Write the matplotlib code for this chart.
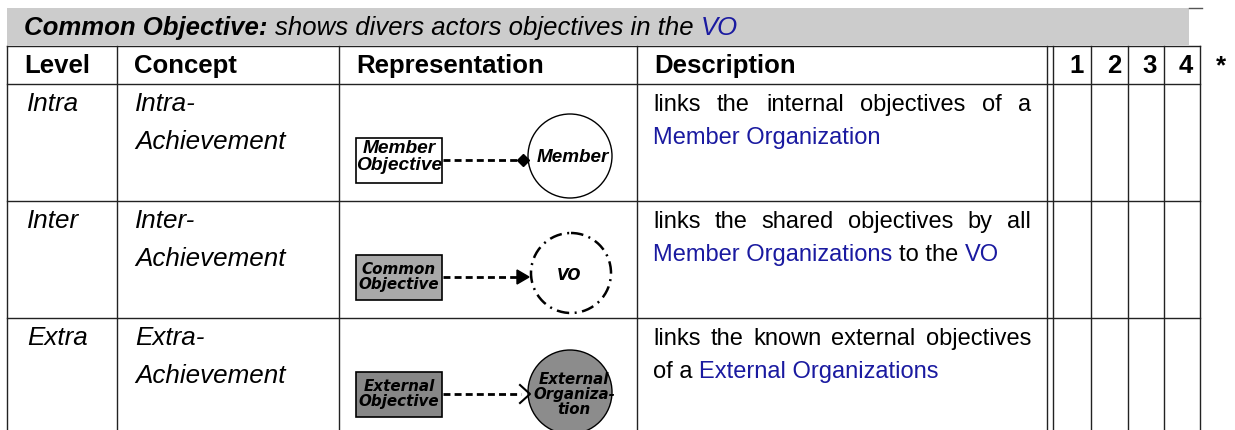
import matplotlib
matplotlib.use('Agg')
import matplotlib.pyplot as plt
from matplotlib.patches import Rectangle, Circle, Polygon

plt.rcParams['font.family'] = ['Liberation Sans', 'DejaVu Sans']

# ---- table content ----
title_runs = ['Common Objective:', 'shows divers actors objectives in the', 'VO']
headers = ['Level', 'Concept', 'Representation', 'Description']
check_cols = ['1', '2', '3', '4']
levels = ['Intra', 'Inter', 'Extra']
concepts = [['Intra-', 'Achievement'], ['Inter-', 'Achievement'], ['Extra-', 'Achievement']]
desc_first = ['links the internal objectives of a',
              'links the shared objectives by all',
              'links the known external objectives']
# second lines: (text, is_link) runs, separated by single spaces
desc_second = [[('Member Organization', True)],
               [('Member Organizations', True), ('to the', False), ('VO', True)],
               [('of a', False), ('External Organizations', True)]]
source_labels = ['Member\nObjective', 'Common\nObjective', 'External\nObjective']
target_labels = ['Member', 'VO', 'External\nOrganiza-\ntion']
source_fills = ['white', '#a9a9a9', '#878787']
target_fills = ['white', 'white', '#8c8c8c']
arrow_kinds = ['dot', 'filled', 'open']

LINK = '#1a1aa0'
W, H = 1235, 430
col_x = [7, 117, 339, 637, 1047]
num_x = [1053, 1091, 1128, 1164, 1200]
head_top, head_bot = 46, 84
row_tops = [84, 201, 318]

fig = plt.figure(figsize=(W / 100, H / 100), dpi=100)
ax = fig.add_axes([0, 0, 1, 1])
ax.set_xlim(0, W)
ax.set_ylim(H, 0)
ax.axis('off')
fig.canvas.draw()
renderer = fig.canvas.get_renderer()


def width(t):
    return t.get_window_extent(renderer).width


def space_width(**style):
    a = ax.text(0, 0, 'n n', **style)
    b = ax.text(0, 0, 'nn', **style)
    w = width(a) - width(b)
    a.remove()
    b.remove()
    return w


def draw_runs(x, y, runs):
    for text, style in runs:
        t = ax.text(x, y, text, va='baseline', ha='left', **style)
        x += width(t) + space_width(**style)


def justify(text, x0, x1, y, **style):
    arts = [ax.text(0, y, w, va='baseline', ha='left', **style) for w in text.split()]
    ws = [width(a) for a in arts]
    gap = (x1 - x0 - sum(ws)) / (len(arts) - 1)
    x = x0
    for a, w in zip(arts, ws):
        a.set_x(x)
        x += w + gap


# ---- title band ----
ax.add_patch(Rectangle((7, 8), 1182, 37, fc='#cccccc', ec='none'))
ax.plot([1189, 1202], [8, 8], color='#555555', lw=1)
tfs = 18.5
draw_runs(24, 35, [(title_runs[0], dict(fontsize=tfs, fontweight='bold', fontstyle='italic')),
                   (title_runs[1], dict(fontsize=tfs, fontstyle='italic')),
                   (title_runs[2], dict(fontsize=tfs, fontstyle='italic', color=LINK))])

# ---- grid ----
lc = '#222222'
for y in [head_top, head_bot] + row_tops[1:]:
    ax.plot([col_x[0], num_x[-1]], [y, y], color=lc, lw=1)
for x in col_x + num_x:
    ax.plot([x, x], [head_top, H], color=lc, lw=1)

# ---- header ----
hfs = 18.5
for x, h in zip(col_x, headers):
    ax.text(x + 17, 73, h, fontsize=hfs, fontweight='bold', va='baseline')
for x, h in zip(num_x[1:], check_cols):
    ax.text(x - 7, 73, h, fontsize=hfs, fontweight='bold', va='baseline', ha='right')
ax.text(1216, 73, '*', fontsize=hfs, fontweight='bold', va='baseline')

# ---- rows ----
bfs = 18.7
dfs = 17
for i, top in enumerate(row_tops):
    b1 = top + 27
    ax.text(27, b1, levels[i], fontsize=bfs, fontstyle='italic', va='baseline')
    ax.text(135, b1, concepts[i][0], fontsize=bfs, fontstyle='italic', va='baseline')
    ax.text(135, b1 + 38, concepts[i][1], fontsize=bfs, fontstyle='italic', va='baseline')
    justify(desc_first[i], 653, 1031, b1, fontsize=dfs)
    draw_runs(653, b1 + 33, [(t, dict(fontsize=dfs, color=LINK if link else 'black'))
                             for t, link in desc_second[i]])

    # representation diagram
    cy = top + 76
    box = Rectangle((356, cy - 22), 86, 45, fc=source_fills[i], ec='black', lw=1.2)
    ax.add_patch(box)
    if i == 0:
        bstyle = dict(family='Liberation Sans', fontsize=13.8)
        by = cy - 3
    else:
        bstyle = dict(family='DejaVu Sans', fontsize=10.9)
        by = cy
    ax.text(399, by, source_labels[i], ha='center', va='center', fontweight='bold',
            fontstyle='italic', linespacing=0.98, clip_path=box, **bstyle)
    ax.plot([443, 521], [cy, cy], color='black', lw=2, dashes=(2.5, 1.5))
    if arrow_kinds[i] == 'dot':
        ax.plot([523], [cy], marker='D', ms=6.5, color='black')
    elif arrow_kinds[i] == 'filled':
        ax.add_patch(Polygon([(517, cy - 7), (529, cy), (517, cy + 7)], closed=True, fc='black', ec='black'))
    else:
        ax.plot([520, 530, 520], [cy - 9, cy, cy + 9], color='black', lw=1.5)

    ccy = top + 72 if i < 2 else top + 74
    if i == 1:
        circ = Circle((571, ccy), 40, fc='white', ec='black', lw=1.8, ls=(0, (5, 2.2, 0.8, 2.2)))
    else:
        circ = Circle((570, ccy), 42, fc=target_fills[i], ec='black', lw=1)
    ax.add_patch(circ)
    if i == 0:
        cstyle = dict(family='Liberation Sans', fontsize=13.6)
        cx = 573
    elif i == 1:
        cstyle = dict(family='DejaVu Sans', fontsize=11)
        cx = 569
    else:
        cstyle = dict(family='DejaVu Sans', fontsize=10.8)
        cx = 574
    ax.text(cx, ccy + 2, target_labels[i], ha='center', va='center', fontweight='bold',
            fontstyle='italic', linespacing=1.0, clip_path=circ, **cstyle)

fig.savefig('out.png', dpi=100)
